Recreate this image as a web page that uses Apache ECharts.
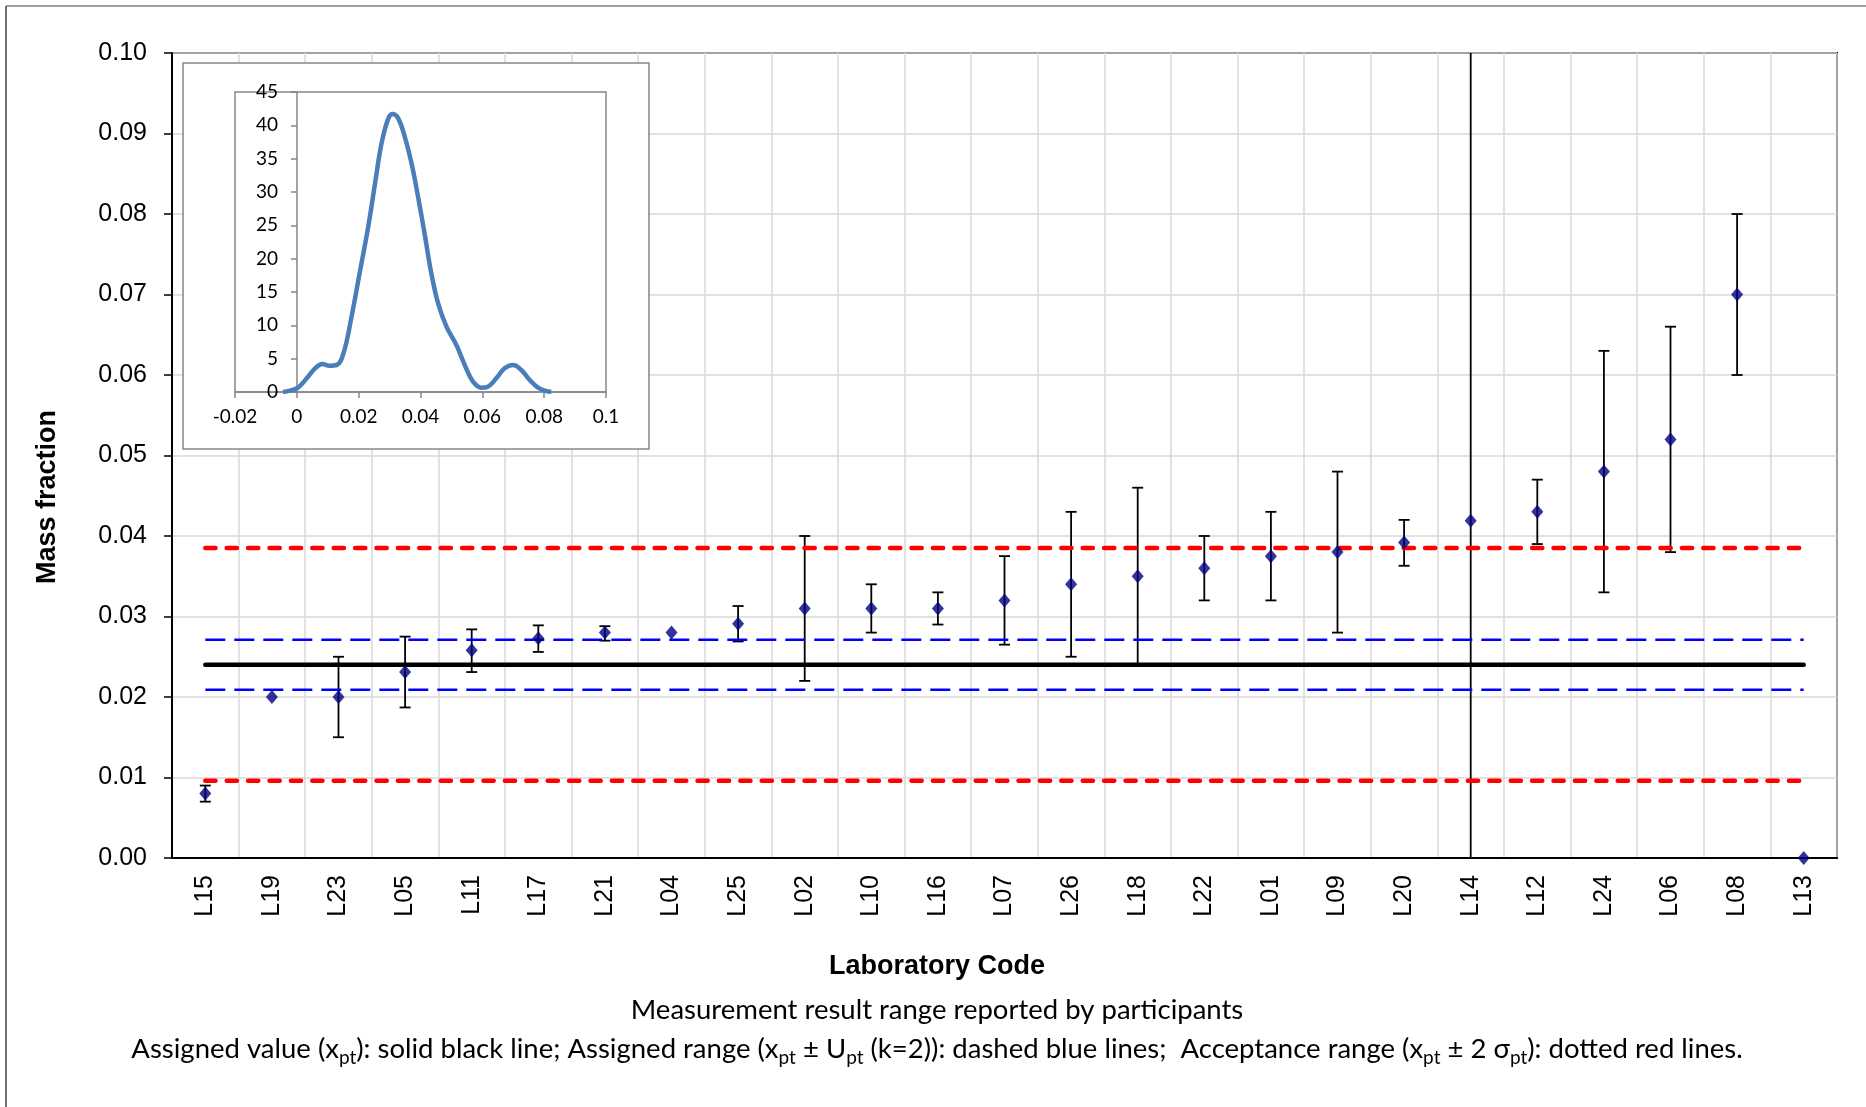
<!DOCTYPE html>
<html>
<head>
<meta charset="utf-8">
<title>Mass fraction by laboratory</title>
<script src="https://cdn.jsdelivr.net/npm/echarts@6/dist/echarts.min.js"></script>
<style>
  html, body { margin: 0; padding: 0; background: #fff; }
  #chart { width: 1866px; height: 1107px; }
</style>
</head>
<body>
<div id="chart"></div>
<script>
// laboratory codes, sorted by reported result
var labs = ['L15','L19','L23','L05','L11','L17','L21','L04','L25','L02','L10','L16','L07',
            'L26','L18','L22','L01','L09','L20','L14','L12','L24','L06','L08','L13'];
// reported results
var results = [0.0080,0.0200,0.0200,0.0231,0.0258,0.0273,0.0280,0.0280,0.0291,0.0310,0.0310,0.0310,0.0320,
               0.0340,0.0350,0.0360,0.0375,0.0380,0.0392,0.0419,0.0430,0.0480,0.0520,0.0700,0.0000];
// reported range (null = none); L14 runs past both ends of the plot
var rangeHigh = [0.0090,null,0.0250,0.0275,0.0284,0.0289,0.0288,null,0.0313,0.0400,0.0340,0.0330,0.0375,
                 0.0430,0.0460,0.0400,0.0430,0.0480,0.0420,0.1500,0.0470,0.0630,0.0660,0.0800,null];
var rangeLow  = [0.0070,null,0.0150,0.0187,0.0231,0.0256,0.0270,null,0.0269,0.0220,0.0280,0.0290,0.0265,
                 0.0250,0.0240,0.0320,0.0320,0.0280,0.0363,-0.0500,0.0390,0.0330,0.0380,0.0600,null];

// assigned value, assigned range, acceptance range
var xpt = 0.0240;
var uHigh = 0.0271, uLow = 0.0209;
var accHigh = 0.0385, accLow = 0.0096;

// kernel density of the results (inset)
var kdeX = [-0.0045,-0.0022,0.0005,0.0032,0.0059,0.0083,0.0105,0.0129,0.0151,0.0177,0.0204,0.0231,0.0253,
            0.0274,0.0296,0.0310,0.0328,0.0349,0.0371,0.0392,0.0414,0.0435,0.0457,0.0484,0.0516,0.0543,
            0.0570,0.0597,0.0618,0.0645,0.0672,0.0699,0.0726,0.0753,0.0780,0.0806,0.0823];
var kdeY = [0.0,0.2,0.7,2.05,3.55,4.2,3.95,4.05,5.8,11.3,18.05,24.8,31.3,
            37.3,41.05,41.7,41.05,38.3,34.3,29.3,23.55,17.8,13.3,9.8,7.05,4.05,
            1.55,0.65,0.8,2.05,3.55,4.05,3.3,1.8,0.65,0.15,0.05];

var chart = echarts.init(document.getElementById('chart'));

var errData = [];
for (var i = 0; i < labs.length; i++) {
    if (rangeHigh[i] != null) errData.push([i, rangeLow[i], rangeHigh[i]]);
}
var kdeData = kdeX.map(function (x, i) { return [x, kdeY[i]]; });
function flat(v) { return labs.map(function () { return v; }); }

// inset plot: the y axis sits at x = 0
var insetLeft = 235, insetWidth = 371, insetMin = -0.02, insetMax = 0.1;
var zeroShift = Math.round((0 - insetMin) / (insetMax - insetMin) * insetWidth);

var sub = { fontFamily: 'Lato', fontSize: 19, lineHeight: 18, verticalAlign: 'bottom', color: '#000' };
var nrm = { fontFamily: 'Lato', fontSize: 27.5, lineHeight: 36, color: '#000' };

var option = {
    backgroundColor: '#fff',
    animation: false,
    grid: [
        { left: 172, top: 53, right: 29, bottom: 249, show: true, borderColor: '#000', borderWidth: 2 },
        { left: insetLeft, top: 92, width: insetWidth, height: 300, show: true, borderColor: '#868686', borderWidth: 1.5, zlevel: 1, z: 5 }
    ],
    xAxis: [
        {
            type: 'category', gridIndex: 0, data: labs, boundaryGap: true,
            axisLine: { lineStyle: { color: '#000', width: 2 } },
            axisTick: { interval: 0, length: 8, lineStyle: { color: '#000', width: 1.5 } },
            axisLabel: { interval: 0, rotate: 90, margin: 17, fontFamily: 'Liberation Sans', fontSize: 25, color: '#000' },
            splitLine: { show: true, interval: 0, lineStyle: { color: '#d9d9d9', width: 1.5 } }
        },
        {
            type: 'value', gridIndex: 1, min: insetMin, max: insetMax, interval: 0.02, zlevel: 1, z: 5,
            axisLine: { onZero: false, lineStyle: { color: '#868686', width: 1.5 } },
            axisTick: { length: 6, lineStyle: { color: '#868686', width: 1.5 } },
            axisLabel: { margin: 15, fontFamily: 'Lato', fontSize: 19, color: '#000',
                         formatter: function (v) { return String(+v.toFixed(2)); } },
            splitLine: { show: false }
        }
    ],
    yAxis: [
        {
            type: 'value', gridIndex: 0, min: 0, max: 0.1, interval: 0.01,
            axisLine: { show: true, lineStyle: { color: '#000', width: 2 } },
            axisTick: { show: true, length: 8, lineStyle: { color: '#000', width: 1.5 } },
            axisLabel: { margin: 25, fontFamily: 'Liberation Sans', fontSize: 25, color: '#000',
                         formatter: function (v) { return v.toFixed(2); } },
            splitLine: { lineStyle: { color: '#d9d9d9', width: 1.5 } }
        },
        {
            type: 'value', gridIndex: 1, min: 0, max: 45, interval: 5, zlevel: 1, z: 5,
            offset: -zeroShift,
            axisLine: { show: true, onZero: false, lineStyle: { color: '#868686', width: 1.5 } },
            axisTick: { show: true, length: 6, lineStyle: { color: '#868686', width: 1.5 } },
            axisLabel: { margin: 19, fontFamily: 'Lato', fontSize: 19, color: '#000' },
            splitLine: { show: false }
        }
    ],
    graphic: [
        { type: 'line', shape: { x1: 6, y1: 6, x2: 1866, y2: 6 }, style: { stroke: '#808080', lineWidth: 1.5 } },
        { type: 'line', shape: { x1: 6, y1: 6, x2: 6, y2: 1107 }, style: { stroke: '#404040', lineWidth: 1.5 } },
        { type: 'rect', zlevel: 1, z: 0, shape: { x: 183, y: 63, width: 466, height: 386 },
          style: { fill: '#fff', stroke: '#868686', lineWidth: 1.5 } },
        { type: 'text', x: 48, y: 497, rotation: Math.PI / 2,
          style: { text: 'Mass fraction', fontFamily: 'Liberation Sans', fontWeight: 'bold', fontSize: 27,
                   fill: '#000', align: 'center', verticalAlign: 'middle' } },
        { type: 'text', x: 937, y: 967,
          style: { text: 'Laboratory Code', fontFamily: 'Liberation Sans', fontWeight: 'bold', fontSize: 27,
                   fill: '#000', align: 'center', verticalAlign: 'middle' } },
        { type: 'text', x: 937, y: 1010,
          style: { text: 'Measurement result range reported by participants', fontFamily: 'Lato', fontSize: 27.5,
                   fill: '#000', align: 'center', verticalAlign: 'middle' } },
        { type: 'text', x: 937, y: 1049,
          style: {
              text: '{n|Assigned value (x}{s|pt}{n|): solid black line; Assigned range (x}{s|pt}{n| \u00b1 U}{s|pt}' +
                    '{n| (k=2)): dashed blue lines;  Acceptance range (x}{s|pt}{n| \u00b1 2 \u03c3}{s|pt}{n|): dotted red lines.}',
              align: 'center', verticalAlign: 'middle',
              rich: { n: nrm, s: sub }
          } }
    ],
    series: [
        { name: 'acc high', type: 'line', data: flat(accHigh), showSymbol: false, silent: true,
          lineStyle: { color: '#ff0000', width: 4.5, type: [10.2, 11.2], cap: 'round' } },
        { name: 'acc low', type: 'line', data: flat(accLow), showSymbol: false, silent: true,
          lineStyle: { color: '#ff0000', width: 4.5, type: [10.2, 11.2], cap: 'round' } },
        { name: 'U high', type: 'line', data: flat(uHigh), showSymbol: false, silent: true,
          lineStyle: { color: '#0000ff', width: 2.5, type: [20, 9] } },
        { name: 'U low', type: 'line', data: flat(uLow), showSymbol: false, silent: true,
          lineStyle: { color: '#0000ff', width: 2.5, type: [20, 9] } },
        { name: 'assigned', type: 'line', data: flat(xpt), showSymbol: false, silent: true,
          lineStyle: { color: '#000', width: 4.5, cap: 'round' } },
        {
            name: 'range', type: 'custom', clip: true, data: errData,
            renderItem: function (params, api) {
                var x = api.coord([api.value(0), 0])[0];
                var hi = api.coord([api.value(0), api.value(2)])[1];
                var lo = api.coord([api.value(0), api.value(1)])[1];
                var w = 5.5;
                var st = { stroke: '#000', lineWidth: 1.8 };
                return {
                    type: 'group',
                    children: [
                        { type: 'line', shape: { x1: x, y1: hi, x2: x, y2: lo }, style: st },
                        { type: 'line', shape: { x1: x - w, y1: hi, x2: x + w, y2: hi }, style: st },
                        { type: 'line', shape: { x1: x - w, y1: lo, x2: x + w, y2: lo }, style: st }
                    ]
                };
            },
            encode: { x: 0, y: [1, 2] }
        },
        { name: 'result', type: 'scatter', data: results, symbol: 'diamond', symbolSize: [12, 14],
          clip: false, itemStyle: { color: '#000080' }, z: 4 },
        { name: 'density', type: 'line', xAxisIndex: 1, yAxisIndex: 1, data: kdeData, smooth: 0.4,
          showSymbol: false, zlevel: 1, z: 6,
          lineStyle: { color: '#4a7ebb', width: 4.5 } }
    ]
};

chart.setOption(option);
</script>
</body>
</html>
